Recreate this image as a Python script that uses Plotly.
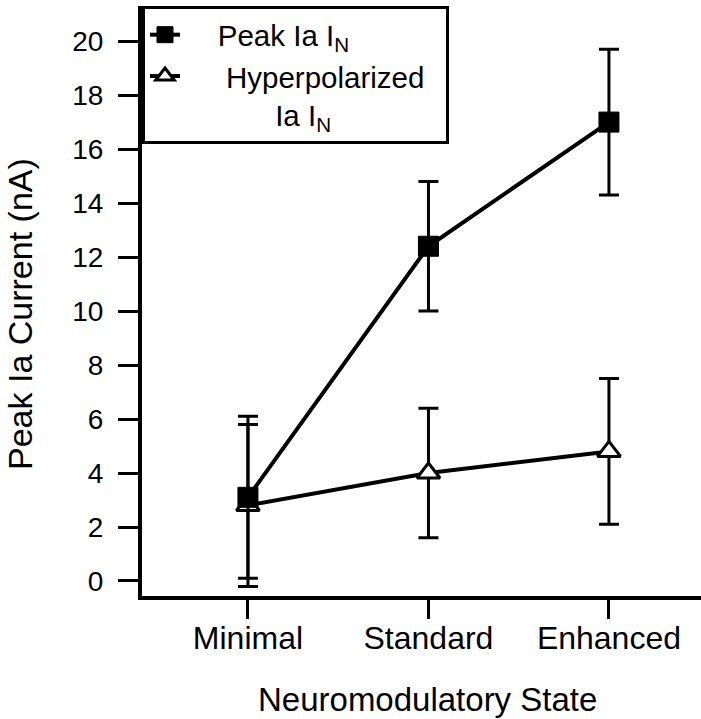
import plotly.graph_objects as go

categories = ["Minimal", "Standard", "Enhanced"]
cat_pos = [0, 1, 2]

peak_mean = [3.1, 12.4, 17.0]
peak_err = [3.0, 2.4, 2.7]

hyper_mean = [2.8, 4.0, 4.8]
hyper_err = [3.0, 2.4, 2.7]

y_ticks = [0, 2, 4, 6, 8, 10, 12, 14, 16, 18, 20]

FONT = "Liberation Sans, Arial, Helvetica, sans-serif"
NB = "\u00a0"

fig = go.Figure()

fig.add_trace(go.Scatter(
    x=cat_pos, y=hyper_mean,
    mode="lines+markers",
    name=NB * 5 + "Hyperpolarized" + NB * 2 + "<br>" + NB * 11 + "Ia I<sub>N</sub>",
    line=dict(color="black", width=4),
    marker=dict(symbol="triangle-up", size=20, color="white",
                line=dict(color="black", width=3)),
    error_y=dict(type="data", array=hyper_err, symmetric=True,
                 color="black", thickness=3, width=10),
    legendrank=2,
))

fig.add_trace(go.Scatter(
    x=cat_pos, y=peak_mean,
    mode="lines+markers",
    name=NB * 4 + "Peak Ia I<sub>N</sub>",
    line=dict(color="black", width=4),
    marker=dict(symbol="square", size=20, color="black",
                line=dict(color="black", width=1)),
    error_y=dict(type="data", array=peak_err, symmetric=True,
                 color="black", thickness=3, width=10),
    legendrank=1,
))

fig.update_layout(
    width=701, height=719,
    margin=dict(l=142, r=0, t=6, b=123, pad=0),
    paper_bgcolor="white", plot_bgcolor="white",
    font=dict(family=FONT, size=28, color="black"),
    showlegend=True,
    legend=dict(
        x=0, y=1, xanchor="left", yanchor="top",
        xref="paper", yref="paper",
        bgcolor="white", bordercolor="black", borderwidth=3,
        font=dict(family=FONT, size=29.5, color="black"),
        tracegroupgap=0, valign="top",
        itemwidth=30,
    ),
    xaxis=dict(
        range=[-0.587, 2.51],
        tickmode="array", tickvals=cat_pos, ticktext=categories,
        showline=True, linecolor="black", linewidth=4,
        ticks="outside", ticklen=19, tickwidth=3, tickcolor="black",
        ticklabelstandoff=-8,
        showgrid=False, zeroline=False, automargin=False,
        tickfont=dict(family=FONT, size=32, color="black"),
    ),
    yaxis=dict(
        range=[-0.556, 21.3],
        tickmode="array", tickvals=y_ticks,
        showline=True, linecolor="black", linewidth=4,
        ticks="outside", ticklen=20, tickwidth=3, tickcolor="black",
        ticklabelstandoff=9,
        showgrid=False, zeroline=False, automargin=False,
        tickfont=dict(family=FONT, size=28, color="black"),
    ),
    annotations=[
        dict(text="Neuromodulatory State", xref="paper", yref="paper",
             x=(427 - 142) / 559, y=(596 - 699) / 590,
             xanchor="center", yanchor="middle", showarrow=False,
             font=dict(family=FONT, size=33, color="black")),
        dict(text="Peak Ia Current (nA)", xref="paper", yref="paper",
             x=(20 - 142) / 559, y=(596 - 314) / 590, textangle=-90,
             xanchor="center", yanchor="middle", showarrow=False,
             font=dict(family=FONT, size=34, color="black")),
    ],
)

fig.write_html("out.html", config={"displayModeBar": False},
               post_script="document.body.style.margin='0px';")
